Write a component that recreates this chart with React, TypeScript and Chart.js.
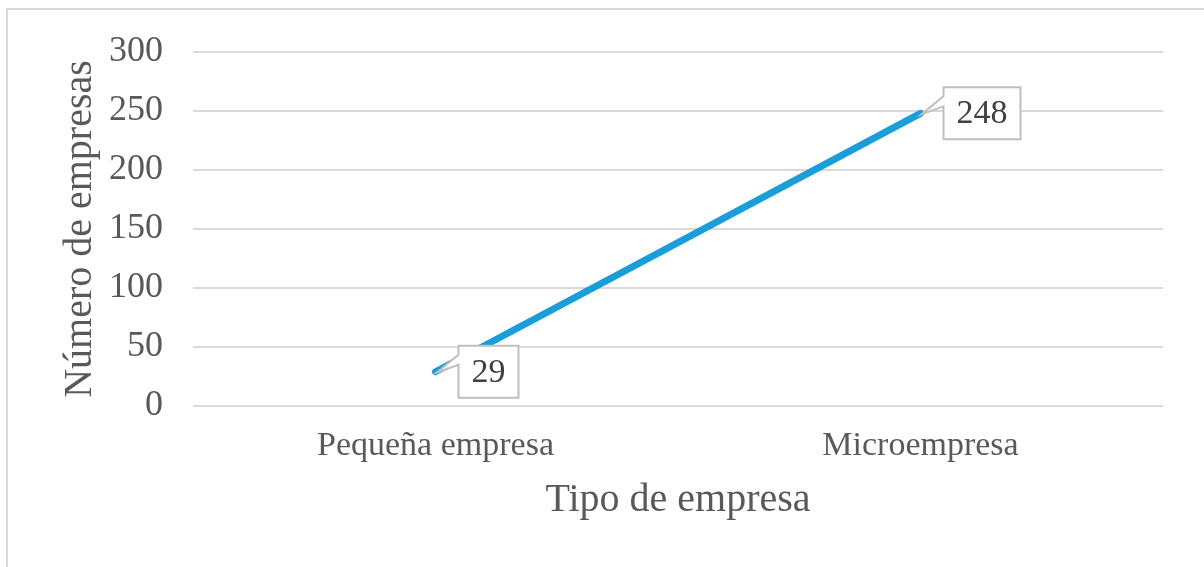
import { useEffect, useRef } from 'react';
import { Chart, registerables } from 'chart.js';

Chart.register(...registerables);

// Data
const categories = ['Pequeña empresa', 'Microempresa'];
const companyCounts = [29, 248];
const yTicks = [0, 50, 100, 150, 200, 250, 300];

const SERIF = '"Liberation Serif", "Times New Roman", serif';
const LINE_BLUE = '#1a9ed9';
const TEXT_GRAY = '#595959';
const GRID_GRAY = '#d9d9d9';

// Boxed value labels with a small pointer wedge toward each point
const calloutPlugin = {
  id: 'calloutLabels',
  afterDatasetsDraw(chart: any) {
    const ctx = chart.ctx as CanvasRenderingContext2D;
    const meta = chart.getDatasetMeta(0);
    const values = chart.data.datasets[0].data as number[];
    ctx.save();
    ctx.font = `34px ${SERIF}`;
    meta.data.forEach((pt: any, i: number) => {
      const text = String(values[i]);
      const tw = ctx.measureText(text).width;
      const w = tw + 26;
      const h = 52;
      const left = pt.x + 23;
      const top = pt.y - h / 2;
      const a1 = top + 9;
      const a2 = top + 19;
      const tipX = pt.x + 1;
      const tipY = pt.y + 1;
      ctx.beginPath();
      ctx.moveTo(left, top);
      ctx.lineTo(left + w, top);
      ctx.lineTo(left + w, top + h);
      ctx.lineTo(left, top + h);
      ctx.lineTo(left, a2);
      ctx.lineTo(tipX, tipY);
      ctx.lineTo(left, a1);
      ctx.closePath();
      ctx.fillStyle = '#ffffff';
      ctx.fill();
      ctx.strokeStyle = '#bfbfbf';
      ctx.lineWidth = 2;
      ctx.lineJoin = 'miter';
      ctx.stroke();
      ctx.fillStyle = '#404040';
      ctx.textAlign = 'center';
      ctx.textBaseline = 'middle';
      ctx.fillText(text, left + w / 2, top + h / 2 + 1);
    });
    ctx.restore();
  },
};

export default function App() {
  const canvasRef = useRef<HTMLCanvasElement | null>(null);

  useEffect(() => {
    if (!canvasRef.current) return;
    const chart = new Chart(canvasRef.current, {
      type: 'line',
      data: {
        labels: categories,
        datasets: [
          {
            data: companyCounts,
            borderColor: LINE_BLUE,
            backgroundColor: LINE_BLUE,
            borderWidth: 7,
            borderCapStyle: 'round',
            pointRadius: 0,
            pointHoverRadius: 0,
            tension: 0,
          },
        ],
      },
      options: {
        animation: false,
        responsive: false,
        maintainAspectRatio: false,
        layout: { padding: { top: 52, right: 41, bottom: 0, left: 0 } },
        plugins: {
          legend: { display: false },
          tooltip: { enabled: false },
        },
        scales: {
          x: {
            offset: true,
            grid: { display: false, drawTicks: false },
            border: { display: false },
            ticks: {
              color: TEXT_GRAY,
              font: { family: SERIF, size: 34 },
              padding: 20,
              maxRotation: 0,
              autoSkip: false,
            },
            title: {
              display: true,
              text: 'Tipo de empresa',
              color: TEXT_GRAY,
              font: { family: SERIF, size: 40 },
              padding: { top: 0, bottom: 43 },
            },
            afterFit: (s: any) => {
              s.height = 161;
            },
          },
          y: {
            min: 0,
            max: 300,
            grid: { color: GRID_GRAY, lineWidth: 2, drawTicks: false },
            border: { display: false },
            ticks: {
              color: TEXT_GRAY,
              font: { family: SERIF, size: 36 },
              padding: 30,
            },
            afterBuildTicks: (s: any) => {
              s.ticks = yTicks.map((v) => ({ value: v }));
            },
            title: {
              display: true,
              text: 'Número de empresas',
              color: TEXT_GRAY,
              font: { family: SERIF, size: 40 },
              padding: { top: 56, bottom: 0 },
            },
            afterFit: (s: any) => {
              s.width = 193;
            },
          },
        },
      },
      plugins: [calloutPlugin],
    } as any);
    return () => chart.destroy();
  }, []);

  return (
    <div
      style={{
        position: 'fixed',
        left: 0,
        top: 0,
        width: 1204,
        height: 567,
        background: '#ffffff',
        overflow: 'hidden',
      }}
    >
      <div
        style={{
          position: 'absolute',
          left: 6,
          top: 8,
          width: 1198,
          height: 559,
          boxSizing: 'border-box',
          borderTop: `2px solid ${GRID_GRAY}`,
          borderLeft: `2px solid ${GRID_GRAY}`,
        }}
      />
      <canvas
        ref={canvasRef}
        width={1204}
        height={567}
        style={{ position: 'absolute', left: 0, top: 0, width: 1204, height: 567 }}
      />
    </div>
  );
}
